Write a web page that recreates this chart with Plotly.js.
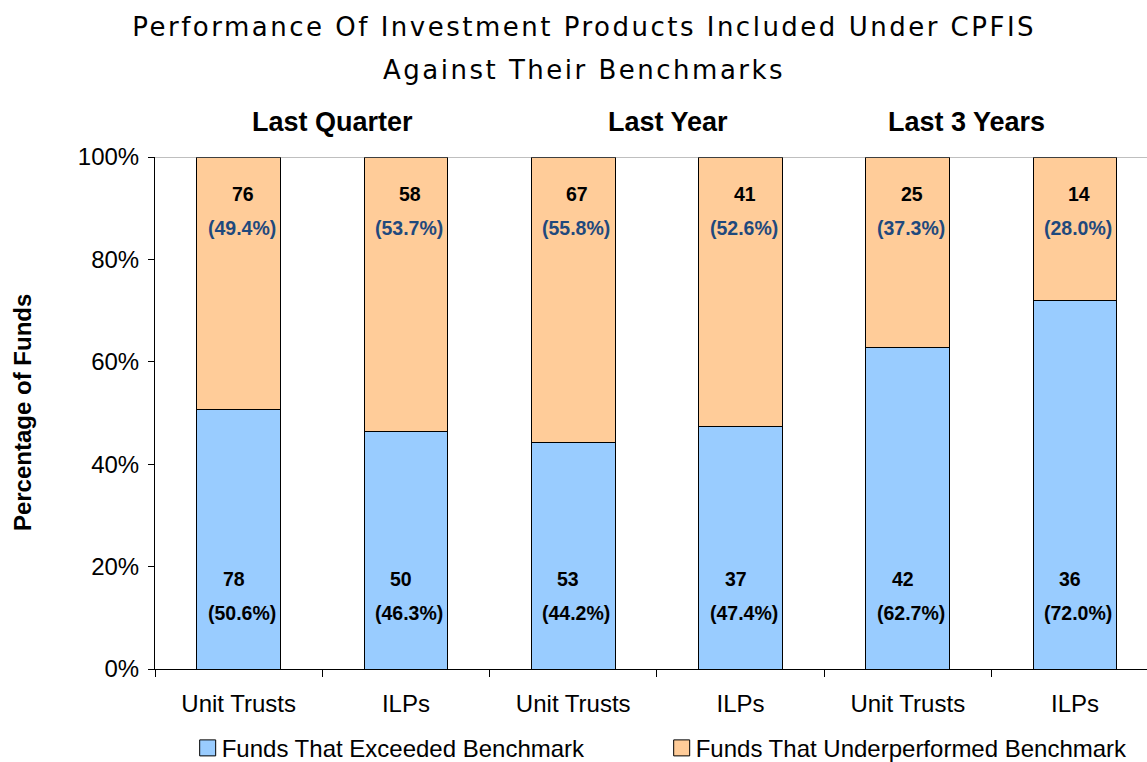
<!DOCTYPE html>
<html>
<head>
<meta charset="utf-8">
<script src="https://cdn.plot.ly/plotly-3.0.1.min.js"></script>
<style>
body { margin: 0; background: #fff; }
#grafico { width: 1147px; height: 762px; }
</style>
</head>
<body>
<div id="grafico"></div>
<script>
// datos
let productos = ['Unit Trusts', 'ILPs', 'Unit Trusts', 'ILPs', 'Unit Trusts', 'ILPs'];
let periodos = ['Last Quarter', 'Last Year', 'Last 3 Years'];
let fondosSuperan = [78, 50, 53, 37, 42, 36];
let fondosBajo = [76, 58, 67, 41, 25, 14];
let pctSuperan = [50.6, 46.3, 44.2, 47.4, 62.7, 72.0];
let pctBajo = [49.4, 53.7, 55.8, 52.6, 37.3, 28.0];
let ticksY = [0, 20, 40, 60, 80, 100];
let titulo = ['Performance Of Investment Products Included Under CPFIS', 'Against Their Benchmarks'];

let posX = productos.map((p, i) => i);

let graf1 = {
    x: posX,
    y: pctSuperan,
    type: 'bar',
    name: 'Funds That Exceeded Benchmark',
    width: 0.5,
    marker: { color: '#99CCFF', line: { color: '#000', width: 1 } },
    hoverinfo: 'skip'
};
let graf2 = {
    x: posX,
    y: pctBajo,
    type: 'bar',
    name: 'Funds That Underperformed Benchmark',
    width: 0.5,
    marker: { color: '#FFCC99', line: { color: '#000', width: 1 } },
    hoverinfo: 'skip'
};

let arial = 'Arial, Liberation Sans, sans-serif';
let notas = [];
let fuenteNota = { family: arial, size: 19.5, color: '#000' };
posX.forEach(i => {
    notas.push({ x: i, y: 92.8, text: '<b>' + fondosBajo[i] + '</b>', showarrow: false, font: fuenteNota, xshift: 4 });
    notas.push({ x: i, y: 86.1, text: '<b>(' + pctBajo[i].toFixed(1) + '%)</b>', showarrow: false,
        font: { family: arial, size: 19.5, color: '#1F497D' }, xshift: 3 });
    notas.push({ x: i, y: 17.6, text: '<b>' + fondosSuperan[i] + '</b>', showarrow: false, font: fuenteNota, xshift: -5 });
    notas.push({ x: i, y: 10.9, text: '<b>(' + pctSuperan[i].toFixed(1) + '%)</b>', showarrow: false, font: fuenteNota, xshift: 3 });
});
// posiciones de los rotulos de periodo
let xPeriodo = [0.564, 2.566, 4.348];
periodos.forEach((p, k) => {
    notas.push({ x: xPeriodo[k], y: 1.068, yref: 'paper', yanchor: 'middle', text: '<b>' + p + '</b>',
        showarrow: false, font: { family: arial, size: 27, color: '#000' } });
});
// titulo en dos lineas
notas.push({ x: 0.432, xref: 'paper', y: 1.254, yref: 'paper', xanchor: 'center', yanchor: 'middle', text: titulo[0],
    showarrow: false, font: { family: 'DejaVu Sans, Verdana', size: 26, color: '#000' } });
notas.push({ x: 0.432, xref: 'paper', y: 1.170, yref: 'paper', xanchor: 'center', yanchor: 'middle', text: titulo[1],
    showarrow: false, font: { family: 'DejaVu Sans, Verdana', size: 26, color: '#000' } });
// titulo del eje y
notas.push({ x: -0.134, xref: 'paper', y: 0.5, yref: 'paper', xanchor: 'center', yanchor: 'middle',
    text: '<b>Percentage of Funds</b>', textangle: -90,
    showarrow: false, font: { family: arial, size: 24, color: '#000' } });

let layout1 = {
    width: 1147,
    height: 762,
    margin: { l: 155, r: 0, t: 157, b: 93, autoexpand: false },
    paper_bgcolor: '#fff',
    plot_bgcolor: '#fff',
    barmode: 'stack',
    xaxis: {
        range: [-0.5, 5.43],
        tickmode: 'array',
        tickvals: posX,
        ticktext: productos,
        ticks: '',
        ticklabelstandoff: 13,
        tickfont: { family: arial, size: 24, color: '#000' },
        showline: true,
        linecolor: '#000',
        linewidth: 1,
        showgrid: false,
        zeroline: false,
        automargin: false,
        minor: { tickvals: [-0.5, 0.5, 1.5, 2.5, 3.5, 4.5], ticks: 'outside', ticklen: 7, tickcolor: '#000', showgrid: false }
    },
    yaxis: {
        range: [0, 100],
        tickmode: 'array',
        tickvals: ticksY,
        ticktext: ticksY.map(v => v + '%'),
        ticks: 'outside',
        ticklen: 6,
        tickcolor: '#000',
        ticklabelstandoff: 4,
        tickfont: { family: arial, size: 24, color: '#000' },
        showline: true,
        linecolor: '#000',
        showgrid: false,
        zeroline: false,
        automargin: false
    },
    shapes: [{
        type: 'line', xref: 'paper', yref: 'y', x0: 0, x1: 1, y0: 100, y1: 100,
        line: { color: '#808080', width: 1 }
    }],
    annotations: notas,
    showlegend: true,
    legend: {
        orientation: 'h',
        xref: 'container', yref: 'container',
        x: 0.1584, xanchor: 'left',
        y: 0.018, yanchor: 'middle',
        entrywidth: 429,
        entrywidthmode: 'pixels',
        font: { family: arial, size: 24, color: '#000' },
        itemwidth: 30,
        traceorder: 'normal'
    }
};

let contenedor1 = document.getElementById('grafico');
Plotly.newPlot(contenedor1, [graf1, graf2], layout1, { displayModeBar: false }).then(() => {
    // el titulo original tiene letras mas separadas
    document.querySelectorAll('.annotation-text').forEach(t => {
        if (titulo.indexOf(t.textContent) >= 0) t.style.letterSpacing = '2.5px';
    });
    // cuadros de la leyenda mas grandes, pegados al texto
    document.querySelectorAll('.legendpoints path').forEach(p => {
        p.setAttribute('d', 'M14,8H-2V-8H14Z');
        p.style.stroke = '#000';
        p.style.strokeWidth = '1px';
    });
});
</script>
</body>
</html>
